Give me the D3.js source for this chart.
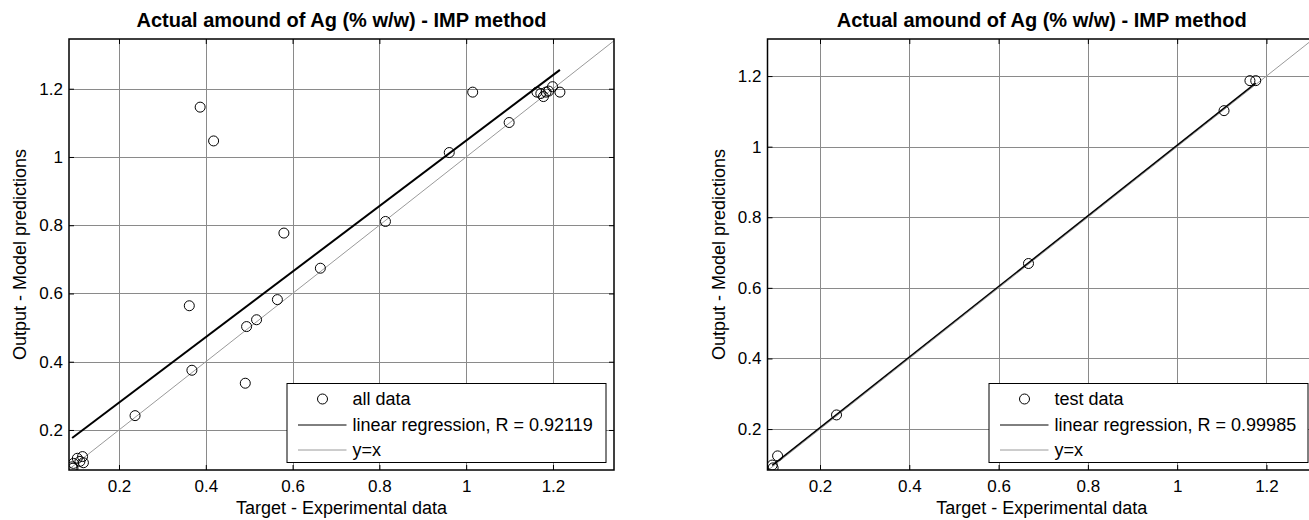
<!DOCTYPE html>
<html>
<head>
<meta charset="utf-8">
<script src="https://cdn.jsdelivr.net/npm/d3@7"></script>
<style>
  body { margin: 0; background: #fff; }
  text { font-family: "Liberation Sans", Arial, Helvetica, sans-serif; fill: #000; }
</style>
</head>
<body>
<div id="chart"></div>
<script>
// all data (left panel)
var all_x = [0.092, 0.094, 0.095, 0.104, 0.110, 0.116, 0.118, 0.237, 0.362, 0.368, 0.387, 0.418,
    0.491, 0.494, 0.517, 0.565, 0.580, 0.664, 0.814, 0.961, 1.015, 1.099, 1.163, 1.172, 1.178,
    1.184, 1.190, 1.199, 1.216];
var all_y = [0.092, 0.088, 0.102, 0.117, 0.108, 0.122, 0.104, 0.242, 0.564, 0.375, 1.146, 1.047,
    0.337, 0.503, 0.523, 0.582, 0.777, 0.674, 0.811, 1.013, 1.190, 1.101, 1.190, 1.186, 1.177,
    1.190, 1.193, 1.206, 1.190];

// test data (right panel)
var test_x = [0.093, 0.095, 0.105, 0.237, 0.667, 1.105, 1.163, 1.176];
var test_y = [0.098, 0.090, 0.124, 0.240, 0.669, 1.102, 1.187, 1.187];

// regression lines
var all_reg = { slope: 0.96, intercept: 0.088, r: "0.92119" };
var test_reg = { slope: 1.0, intercept: 0.004, r: "0.99985" };

var tick_values = [0.2, 0.4, 0.6, 0.8, 1, 1.2];
var tick_labels = ["0.2", "0.4", "0.6", "0.8", "1", "1.2"];

var title_text = "Actual amound of Ag (% w/w) - IMP method";
var x_label_text = "Target - Experimental data";
var y_label_text = "Output - Model predictions";

var svgWidth = 1309;
var svgHeight = 520;

var svg = d3.select("#chart").append("svg")
    .attr("width", svgWidth)
    .attr("height", svgHeight);

function draw_panel(id, box, xdom, ydom, xs, ys, reg, legend_name, reg_width) {

    var x = d3.scaleLinear().domain(xdom).range([box.left, box.right]);
    var y = d3.scaleLinear().domain(ydom).range([box.bottom, box.top]);

    var g = svg.append("g");

    g.append("clipPath")
        .attr("id", "clip" + id)
        .append("rect")
        .attr("x", box.left)
        .attr("y", box.top)
        .attr("width", box.right - box.left)
        .attr("height", box.bottom - box.top);

    // grid
    var grid = g.append("g")
        .attr("stroke", "#8a8a8a")
        .attr("stroke-width", 1);
    grid.selectAll(".gx")
        .data(tick_values)
        .enter()
        .append("line")
        .attr("x1", d => Math.round(x(d)) + 0.5)
        .attr("x2", d => Math.round(x(d)) + 0.5)
        .attr("y1", box.top)
        .attr("y2", box.bottom);
    grid.selectAll(".gy")
        .data(tick_values)
        .enter()
        .append("line")
        .attr("y1", d => Math.round(y(d)) + 0.5)
        .attr("y2", d => Math.round(y(d)) + 0.5)
        .attr("x1", box.left)
        .attr("x2", box.right);

    var plot = g.append("g").attr("clip-path", "url(#clip" + id + ")");

    // y = x
    plot.append("line")
        .attr("x1", x(0))
        .attr("y1", y(0))
        .attr("x2", x(1.5))
        .attr("y2", y(1.5))
        .attr("stroke", "#9a9a9a")
        .attr("stroke-width", 1);

    // regression line over the data range
    var ext = d3.extent(xs);
    plot.append("line")
        .attr("x1", x(ext[0]))
        .attr("y1", y(reg.slope * ext[0] + reg.intercept))
        .attr("x2", x(ext[1]))
        .attr("y2", y(reg.slope * ext[1] + reg.intercept))
        .attr("stroke", "#000")
        .attr("stroke-width", reg_width);

    // points
    plot.selectAll("circle")
        .data(xs.map((d, i) => [d, ys[i]]))
        .enter()
        .append("circle")
        .attr("cx", d => x(d[0]))
        .attr("cy", d => y(d[1]))
        .attr("r", 5)
        .attr("fill", "none")
        .attr("stroke", "#000")
        .attr("stroke-width", 1);

    // axes with inward ticks on all sides
    var tick_fmt = (d, i) => tick_labels[i];
    var axis_bottom = d3.axisBottom(x).tickValues(tick_values).tickFormat(tick_fmt)
        .tickSizeInner(-5).tickSizeOuter(0).tickPadding(10);
    var axis_top = d3.axisTop(x).tickValues(tick_values).tickFormat("")
        .tickSizeInner(-5).tickSizeOuter(0);
    var axis_left = d3.axisLeft(y).tickValues(tick_values).tickFormat(tick_fmt)
        .tickSizeInner(-5).tickSizeOuter(0).tickPadding(6);
    var axis_right = d3.axisRight(y).tickValues(tick_values).tickFormat("")
        .tickSizeInner(-5).tickSizeOuter(0);

    var ax = [
        g.append("g").attr("transform", `translate(0, ${box.bottom})`).call(axis_bottom),
        g.append("g").attr("transform", `translate(0, ${box.top})`).call(axis_top),
        g.append("g").attr("transform", `translate(${box.left}, 0)`).call(axis_left),
        g.append("g").attr("transform", `translate(${box.right}, 0)`).call(axis_right)
    ];
    ax.forEach(function (a) {
        a.select(".domain").remove();
        a.selectAll("line").attr("stroke", "#000");
        a.selectAll("text")
            .attr("font-size", "17px")
            .attr("font-family", "Liberation Sans, Arial, sans-serif")
            .attr("fill", "#000");
    });

    // box
    g.append("rect")
        .attr("x", box.left)
        .attr("y", box.top)
        .attr("width", box.right - box.left)
        .attr("height", box.bottom - box.top)
        .attr("fill", "none")
        .attr("stroke", "#000")
        .attr("stroke-width", 1.5);

    // title and labels
    var cx = (box.left + box.right) / 2;
    g.append("text")
        .attr("x", cx)
        .attr("y", 27)
        .attr("text-anchor", "middle")
        .attr("font-size", "20px")
        .attr("font-weight", "bold")
        .text(title_text);

    g.append("text")
        .attr("x", cx)
        .attr("y", 514)
        .attr("text-anchor", "middle")
        .attr("font-size", "18px")
        .text(x_label_text);

    g.append("text")
        .attr("transform", `translate(${box.left - 43}, ${(box.top + box.bottom) / 2}) rotate(-90)`)
        .attr("text-anchor", "middle")
        .attr("font-size", "18px")
        .text(y_label_text);

    // legend
    var lg = g.append("g")
        .attr("transform", `translate(${box.right - 327}, 383.5)`);
    lg.append("rect")
        .attr("width", 319)
        .attr("height", 79)
        .attr("fill", "#fff")
        .attr("stroke", "#000")
        .attr("stroke-width", 1);
    lg.append("circle")
        .attr("cx", 35.5)
        .attr("cy", 15.5)
        .attr("r", 5)
        .attr("fill", "none")
        .attr("stroke", "#000");
    lg.append("line")
        .attr("x1", 11).attr("x2", 59.5)
        .attr("y1", 41.5).attr("y2", 41.5)
        .attr("stroke", "#000");
    lg.append("line")
        .attr("x1", 11).attr("x2", 59.5)
        .attr("y1", 66.5).attr("y2", 66.5)
        .attr("stroke", "#9a9a9a");
    var entries = [legend_name, "linear regression, R = " + reg.r, "y=x"];
    lg.selectAll(".lt")
        .data(entries)
        .enter()
        .append("text")
        .attr("x", 65.5)
        .attr("y", (d, i) => 15.5 + i * 25.5)
        .attr("dy", "0.35em")
        .attr("font-size", "18px")
        .text(d => d);
}

draw_panel("a", { left: 69, right: 614, top: 39, bottom: 470 },
    [0.0848, 1.3406], [0.0827, 1.3457], all_x, all_y, all_reg, "all data", 2);

draw_panel("b", { left: 767.5, right: 1316, top: 39, bottom: 470 },
    [0.0824, 1.311], [0.084, 1.305], test_x, test_y, test_reg, "test data", 1.5);
</script>
</body>
</html>
